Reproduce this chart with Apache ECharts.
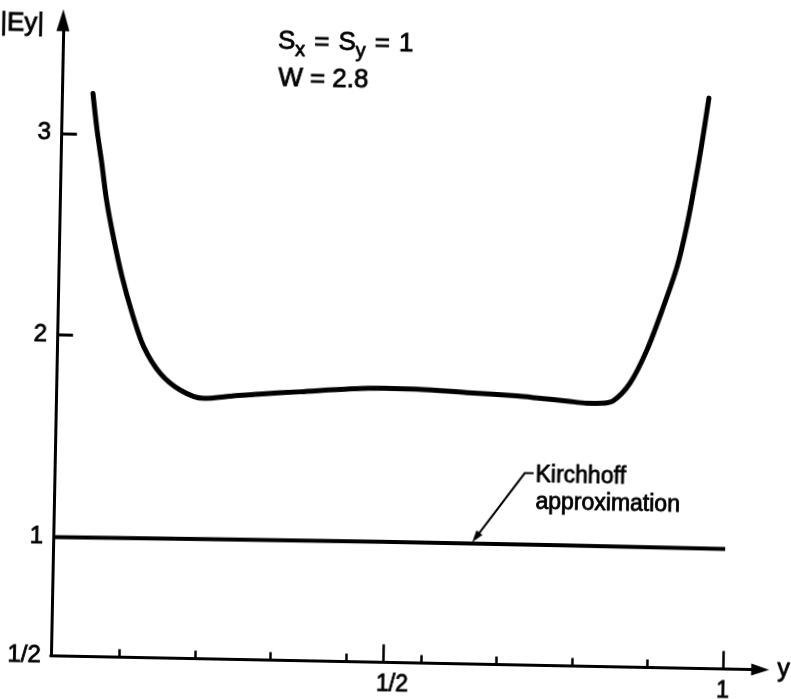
<!DOCTYPE html>
<html>
<head>
<meta charset="utf-8">
<script src="https://cdn.jsdelivr.net/npm/echarts@6/dist/echarts.min.js"></script>
<style>
  html, body { margin: 0; padding: 0; background: #fff; overflow: hidden; width: 791px; height: 699px; }
  /* the plot is drawn on a slightly larger canvas and turned a little, like a scanned sheet */
  #chart { position: absolute; left: -20px; top: -20px; width: 831px; height: 739px;
           transform: rotate(1.12deg); transform-origin: 50% 50%; }
</style>
</head>
<body>
<div id="chart"></div>
<script>
// |Ey| across the strip, Sx = Sy = 1, W = 2.8
const curveX = [0.056, 0.063, 0.071, 0.079, 0.090, 0.104, 0.120, 0.138, 0.163, 0.193,
                0.227, 0.272, 0.310, 0.370, 0.443, 0.492, 0.541, 0.615, 0.689, 0.723,
                0.763, 0.792, 0.812, 0.831, 0.855, 0.879, 0.902, 0.921, 0.934, 0.945,
                0.954, 0.963];
const curveY = [3.20, 3.02, 2.855, 2.674, 2.493, 2.296, 2.115, 1.951, 1.821, 1.740,
                1.701, 1.716, 1.728, 1.743, 1.762, 1.768, 1.767, 1.755, 1.743, 1.734,
                1.723, 1.714, 1.715, 1.729, 1.817, 1.983, 2.199, 2.399, 2.598, 2.813,
                3.012, 3.236];

// Kirchhoff approximation
const kirchhoffX = [0.01, 0.25, 0.5, 0.75, 1.0];
const kirchhoffY = [1.000, 1.004, 1.008, 1.008, 1.006];
const kirchhoffNoteAt = [0.628, 1.008];

// axes
const xRange = [0.01, 1.055];
const yRange = [0.412, 3.56];
const xMajorTicks = [0.5, 1];
const xMajorLabels = ['1/2', '1'];
const xMinorTicks = [1/9, 2/9, 3/9, 4/9, 5/9, 6/9, 7/9, 8/9];
const yTicks = [1, 2, 3];
const yTickLabels = ['1', '2', '3'];
const yOriginLabel = '1/2';

const FONT = 'Liberation Sans, Arial, sans-serif';
const INK = '#000';
const PEN = 0.8;   // extra stroke so lettering reads as pen-drawn

const chart = echarts.init(document.getElementById('chart'), null, { renderer: 'canvas' });

const pairs = (xs, ys) => xs.map((x, i) => [x, ys[i]]);

chart.setOption({
  animation: false,
  backgroundColor: '#fff',
  grid: { left: 76.8, top: 46.7, width: 709.6, height: 635.7 },
  xAxis: [
    {
      type: 'value', min: xRange[0], max: xRange[1], position: 'bottom',
      axisLine: { show: true, lineStyle: { color: INK, width: 3 },
                  symbol: ['none', 'triangle'], symbolSize: [12, 18] },
      axisTick: { show: true, inside: true, length: 18, customValues: xMajorTicks,
                  lineStyle: { color: INK, width: 2.5 } },
      axisLabel: {
        show: true, customValues: xMajorTicks, margin: 11,
        formatter: v => {
          const i = xMajorTicks.findIndex(t => Math.abs(t - v) < 1e-6);
          const s = i >= 0 ? xMajorLabels[i] : '';
          return i === 0 ? '{h|' + s + '}' : s;
        },
        color: INK, fontSize: 23, fontFamily: FONT,
        textBorderColor: INK, textBorderWidth: PEN,
        rich: { h: { fontSize: 23, fontFamily: FONT, color: INK, padding: [0, 0, 0, 18],
                     textBorderColor: INK, textBorderWidth: PEN } }
      },
      splitLine: { show: false },
      name: 'y', nameLocation: 'end', nameGap: 17,
      nameTextStyle: { color: INK, fontSize: 25, fontFamily: FONT, align: 'left', verticalAlign: 'middle',
                       textBorderColor: INK, textBorderWidth: PEN }
    },
    {
      type: 'value', min: xRange[0], max: xRange[1], position: 'bottom',
      axisLine: { show: false },
      axisTick: { show: true, inside: true, length: 8, customValues: xMinorTicks,
                  lineStyle: { color: INK, width: 2.5 } },
      axisLabel: { show: false },
      splitLine: { show: false }
    }
  ],
  yAxis: {
    type: 'value', min: yRange[0], max: yRange[1],
    axisLine: { show: true, lineStyle: { color: INK, width: 3 },
                symbol: ['none', 'triangle'], symbolSize: [13, 22] },
    axisTick: { show: true, inside: true, length: 16, customValues: yTicks,
                lineStyle: { color: INK, width: 3 } },
    axisLabel: {
      show: true, customValues: [yRange[0]].concat(yTicks), margin: 10,
      formatter: v => {
        if (Math.abs(v - yRange[0]) < 1e-6) return yOriginLabel;
        const i = yTicks.findIndex(t => Math.abs(t - v) < 1e-6);
        return i >= 0 ? yTickLabels[i] : '';
      },
      color: INK, fontSize: 24, fontFamily: FONT,
      textBorderColor: INK, textBorderWidth: PEN
    },
    splitLine: { show: false },
    name: '|Ey|', nameLocation: 'end', nameGap: -4,
    nameTextStyle: { color: INK, fontSize: 26, fontFamily: FONT, align: 'right',
                     verticalAlign: 'middle', padding: [0, 19, 0, 0],
                     textBorderColor: INK, textBorderWidth: PEN }
  },
  series: [
    {
      name: '|Ey|', type: 'line', data: pairs(curveX, curveY),
      showSymbol: false, smooth: 0.3,
      lineStyle: { color: INK, width: 5, cap: 'round', join: 'round' }
    },
    {
      name: 'Kirchhoff approximation', type: 'line', data: pairs(kirchhoffX, kirchhoffY),
      showSymbol: false,
      lineStyle: { color: INK, width: 4 }
    }
  ]
});

// parameter block and the note pointing at the Kirchhoff line
const tip = chart.convertToPixel({ xAxisIndex: 0, yAxisIndex: 0 }, kirchhoffNoteAt);
const tx = tip[0], ty = tip[1] - 2;
const pen = { stroke: INK, lineWidth: PEN };
const glyph = (size, extra) => Object.assign({ fontSize: size, fontFamily: FONT, fill: INK,
                                               stroke: INK, lineWidth: PEN }, extra || {});

chart.setOption({
  graphic: [
    {
      type: 'text', x: 292, y: 44.6,
      style: Object.assign({
        text: '{m|S}{s|x}{e|=}{m|S}{s|y}{e|=}{m|1}',
        verticalAlign: 'top', align: 'left', fill: INK,
        rich: {
          m: glyph(26, { lineHeight: 38 }),
          e: glyph(26, { lineHeight: 38, padding: [0, 9, 0, 9] }),
          s: glyph(20, { lineHeight: 20, verticalAlign: 'bottom' })
        }
      }, pen)
    },
    {
      type: 'text', x: 292.9, y: 101.3,
      style: Object.assign({ text: 'W = 2.8', font: '26px ' + FONT, fill: INK,
                             align: 'left', verticalAlign: 'middle' }, pen)
    },
    {
      type: 'text', x: tx + 61.5, y: ty - 67.7,
      style: Object.assign({ text: 'Kirchhoff', font: '23px ' + FONT, fill: INK,
                             align: 'left', verticalAlign: 'middle' }, pen)
    },
    {
      type: 'text', x: tx + 62, y: ty - 40.7,
      style: Object.assign({ text: 'approximation', font: '23px ' + FONT, fill: INK,
                             align: 'left', verticalAlign: 'middle' }, pen)
    },
    {
      type: 'polyline',
      shape: { points: [[tx + 59.6, ty - 69.6], [tx + 50.7, ty - 69.5], [tx + 4, ty - 5.5]] },
      style: { stroke: INK, lineWidth: 2, fill: null }
    },
    {
      type: 'polygon',
      shape: { points: [[tx, ty], [tx + 9.3, ty - 6.8], [tx + 3.7, ty - 11]] },
      style: { fill: INK, stroke: INK, lineWidth: 0.5 }
    }
  ]
});
</script>
</body>
</html>
